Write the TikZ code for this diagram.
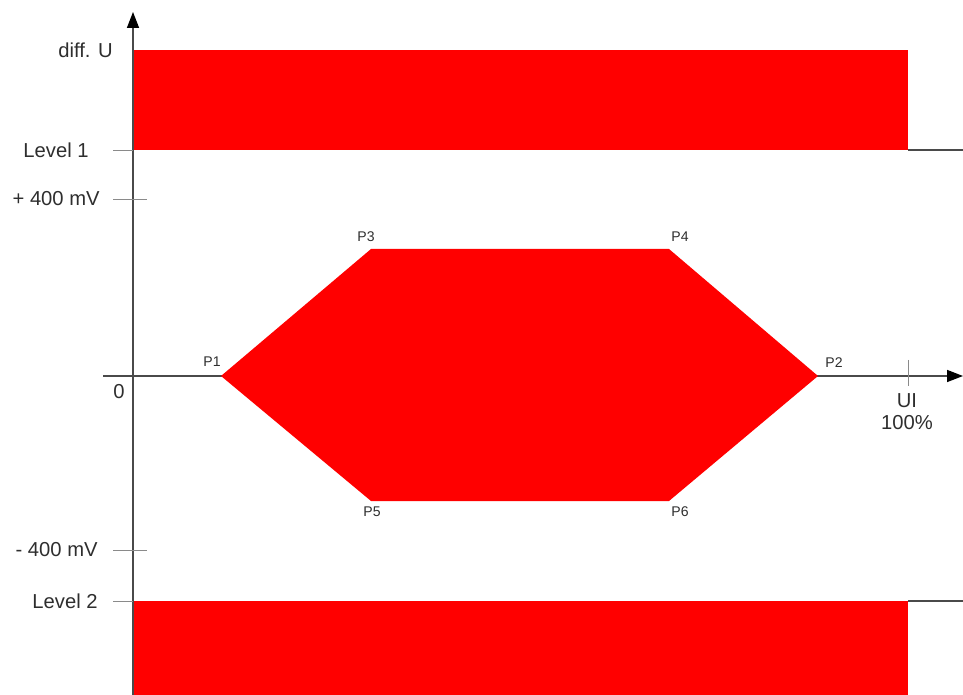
\documentclass[tikz,border=0pt]{standalone}
\usepackage{fontspec}
\setmainfont{Liberation Sans}
\usetikzlibrary{positioning, arrows.meta, calc}
\definecolor{maskred}{HTML}{FF0000}
\definecolor{axisgray}{HTML}{4A4A4A}
\definecolor{tickgray}{HTML}{8A8A8A}
\definecolor{labelgray}{HTML}{2E2E2E}

\begin{document}
\begin{tikzpicture}[x=0.02cm, y=-0.02cm,
    every node/.style={font=\fontsize{11.5}{13}\selectfont, text=labelgray, inner sep=0pt},
    axis/.style={draw=axisgray, line width=0.85pt},
    tick/.style={draw=tickgray, line width=0.5pt},
    tip/.style={-{Triangle[length=0.32cm, width=0.24cm, fill=black, color=black]}},
    ptlabel/.style={font=\fontsize{8}{9}\selectfont}]
        \useasboundingbox (0,0) rectangle (963,695);

        % Forbidden zones above Level 1 and below Level 2
        \fill[maskred] (133,50) rectangle (908,150);
        \fill[maskred] (133,601) rectangle (908,695);

        % Time axis (hidden under the eye mask)
        \coordinate (xL) at (103,376);
        \coordinate (xR) at (963,376);
        \draw[axis, tip] (xL) -- (xR);

        % Eye mask
        \coordinate (P1) at (221,376);
        \coordinate (P2) at (818,376);
        \coordinate (P3) at (371,249);
        \coordinate (P4) at (669,249);
        \coordinate (P5) at (371,501);
        \coordinate (P6) at (669,501);
        \fill[maskred] (P1) -- (P3) -- (P4) -- (P2) -- (P6) -- (P5) -- cycle;

        % Voltage axis
        \coordinate (yB) at (133,695);
        \coordinate (yT) at (133,12);
        \draw[axis, tip] (yB) -- (yT);

        % Ticks and level lines
        \draw[tick] (113,150) -- (133,150);
        \draw[axis] (908,150) -- (963,150);
        \draw[tick] (113,199) -- (147,199);
        \draw[tick] (113,550) -- (147,550);
        \draw[tick] (113,601) -- (133,601);
        \draw[axis] (908,601) -- (963,601);
        \draw[tick] (908,360) -- (908,386);

        % Axis labels
        \node[anchor=east] (dU) at (113,50) {diff. U};
        \node[anchor=east] (lv1) at (89,150) {Level 1};
        \node[anchor=east] (pmv) at (100,199) {+ 400 mV};
        \node (zero) at (119,392) {0};
        \node[anchor=east] (nmv) at (98,550) {- 400 mV};
        \node[anchor=east] (lv2) at (98,601) {Level 2};
        \node (ui) at (907,401) {UI};
        \node (uiP) at (907,423) {100\%};

        % Point labels
        \node[ptlabel] (tP1) at (212,362) {P1};
        \node[ptlabel] (tP2) at (834,363) {P2};
        \node[ptlabel] (tP3) at (366,237) {P3};
        \node[ptlabel] (tP4) at (680,237) {P4};
        \node[ptlabel] (tP5) at (372,512) {P5};
        \node[ptlabel] (tP6) at (680,512) {P6};
      \end{tikzpicture}
\end{document}
